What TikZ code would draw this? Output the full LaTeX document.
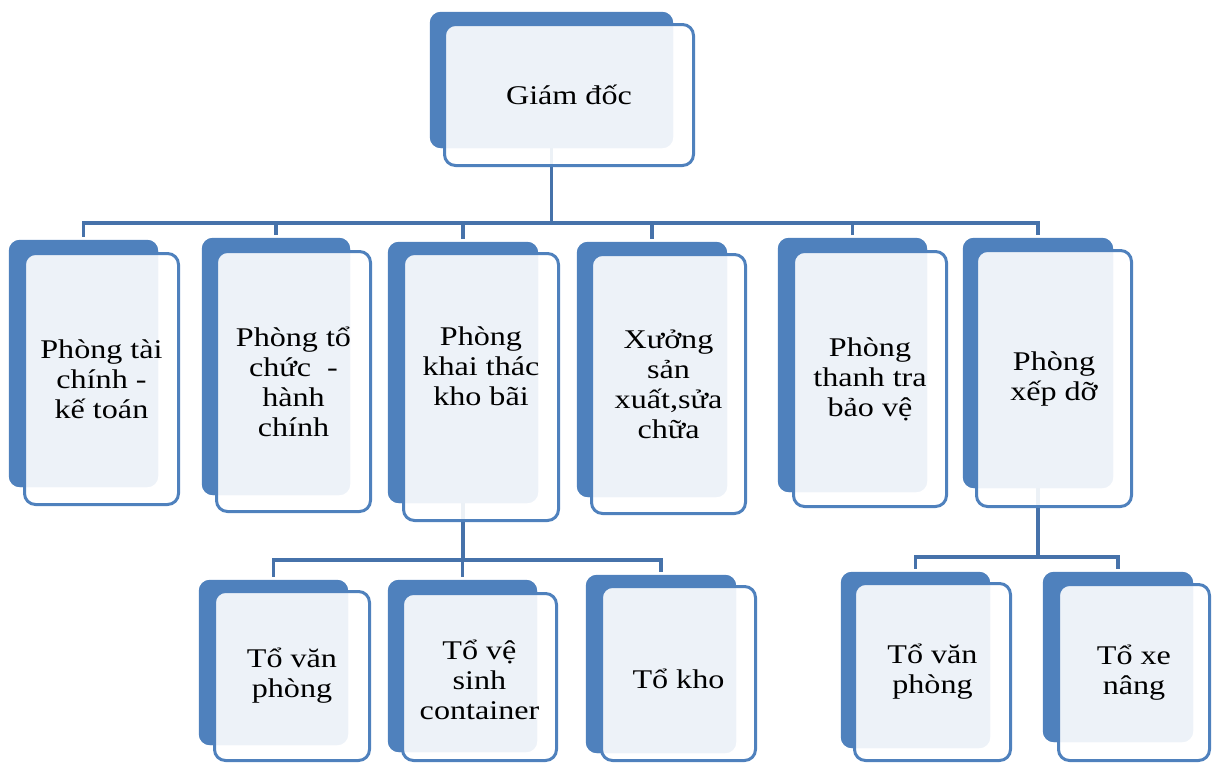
\documentclass[tikz,border=0pt]{standalone}
\usepackage{fontspec}
\setmainfont{Liberation Serif}[FakeStretch=1.19]
\usetikzlibrary{positioning}

\definecolor{boxblue}{HTML}{4F81BD}
\definecolor{linkblue}{HTML}{4672AA}

\tikzset{
  backbox/.style={rectangle, rounded corners=11pt, fill=boxblue, draw=none,
                  inner sep=0pt, minimum width=#1},
  frontbox/.style={rectangle, rounded corners=11pt, draw=boxblue, line width=3pt,
                   fill=white, fill opacity=0.9, inner sep=0pt, minimum width=#1},
  lbl/.style={align=center, inner sep=0pt, text=black,
              font=\fontsize{27}{30}\selectfont},
  link/.style={draw=linkblue, line width=3.5pt, shorten >=3pt}
}

\begin{document}
\begin{tikzpicture}[x=1pt,y=-1pt]
\useasboundingbox (0,0) rectangle (1213,764);

% levels of the connector buses
\coordinate (busA) at (0,223);
\coordinate (busB) at (0,560);
\coordinate (busC) at (0,557);

% back plates (solid blue)
\node[backbox=243pt, minimum height=136pt] (b0) at (551.5,80) {};
\node[backbox=149pt, minimum height=247pt] (b1) at (83.5,363.5) {};
\node[backbox=148pt, minimum height=257pt] (b2) at (276,366.5) {};
\node[backbox=150pt, minimum height=261pt] (b3) at (463,372.5) {};
\node[backbox=150pt, minimum height=255pt] (b4) at (652,369.5) {};
\node[backbox=149pt, minimum height=254pt] (b5) at (852.5,365) {};
\node[backbox=150pt, minimum height=250pt] (b6) at (1038,363) {};
\node[backbox=149pt, minimum height=165pt] (c1) at (273.5,662.5) {};
\node[backbox=149pt, minimum height=172pt] (c2) at (462.5,666) {};
\node[backbox=150pt, minimum height=178pt] (c3) at (661,664) {};
\node[backbox=149pt, minimum height=176pt] (c4) at (915.5,660) {};
\node[backbox=150pt, minimum height=170pt] (c5) at (1118,657) {};

% connectors (drawn under the front cards)
\draw[link] (b0.south) -- (b0.south |- busA) -| (b1.north);
\draw[link] (b0.south) -- (b0.south |- busA) -| (b2.north);
\draw[link] (b0.south) -- (b0.south |- busA) -| (b3.north);
\draw[link] (b0.south) -- (b0.south |- busA) -| (b4.north);
\draw[link] (b0.south) -- (b0.south |- busA) -| (b5.north);
\draw[link] (b0.south) -- (b0.south |- busA) -| (b6.north);
\draw[link] (b3.south) -- (b3.south |- busB) -| (c1.north);
\draw[link] (b3.south) -- (b3.south |- busB) -| (c2.north);
\draw[link] (b3.south) -- (b3.south |- busB) -| (c3.north);
\draw[link] (b6.south) -- (b6.south |- busC) -| (c4.north);
\draw[link] (b6.south) -- (b6.south |- busC) -| (c5.north);

% back plates again on top of the connector ends
\foreach \n in {b0,b1,b2,b3,b4,b5,b6,c1,c2,c3,c4,c5}{
  \fill[boxblue, rounded corners=11pt] (\n.north west) rectangle (\n.south east);
}

% front cards
\node[frontbox=249pt, minimum height=141pt] (f0) at (569,95) {};
\node[frontbox=154pt, minimum height=251pt] (f1) at (101.5,379) {};
\node[frontbox=154pt, minimum height=260pt] (f2) at (293.5,381.5) {};
\node[frontbox=155pt, minimum height=267pt] (f3) at (481,387) {};
\node[frontbox=154pt, minimum height=259pt] (f4) at (668.5,384) {};
\node[frontbox=153pt, minimum height=255pt] (f5) at (870,379) {};
\node[frontbox=155pt, minimum height=256pt] (f6) at (1054,378.5) {};
\node[frontbox=155pt, minimum height=169pt] (g1) at (292,676) {};
\node[frontbox=154pt, minimum height=167pt] (g2) at (479.5,677) {};
\node[frontbox=154pt, minimum height=174pt] (g3) at (678.5,673.5) {};
\node[frontbox=156pt, minimum height=177pt] (g4) at (932.5,672) {};
\node[frontbox=151pt, minimum height=176pt] (g5) at (1134,672.5) {};

% labels
\node[lbl] (t0) at (f0) {Giám đốc};
\node[lbl] (t1) at (f1) {Phòng tài\\chính -\\kế toán};
\node[lbl] (t2) at (f2) {Phòng tổ\\chức \ -\\hành\\chính};
\node[lbl] (t3) at ([yshift=21pt]f3.center) {Phòng\\khai thác\\kho bãi};
\node[lbl] (t4) at (f4) {Xưởng\\sản\\xuất,sửa\\chữa};
\node[lbl] (t5) at (f5) {Phòng\\thanh tra\\bảo vệ};
\node[lbl] (t6) at (f6) {Phòng\\xếp dỡ};
\node[lbl] (u1) at (g1) {Tổ văn\\phòng};
\node[lbl] (u2) at ([yshift=-3pt]g2.center) {Tổ vệ\\sinh\\container};
\node[lbl] (u3) at ([yshift=-5pt]g3.center) {Tổ kho};
\node[lbl] (u4) at (g4) {Tổ văn\\phòng};
\node[lbl] (u5) at (g5) {Tổ xe\\nâng};
\end{tikzpicture}
\end{document}
